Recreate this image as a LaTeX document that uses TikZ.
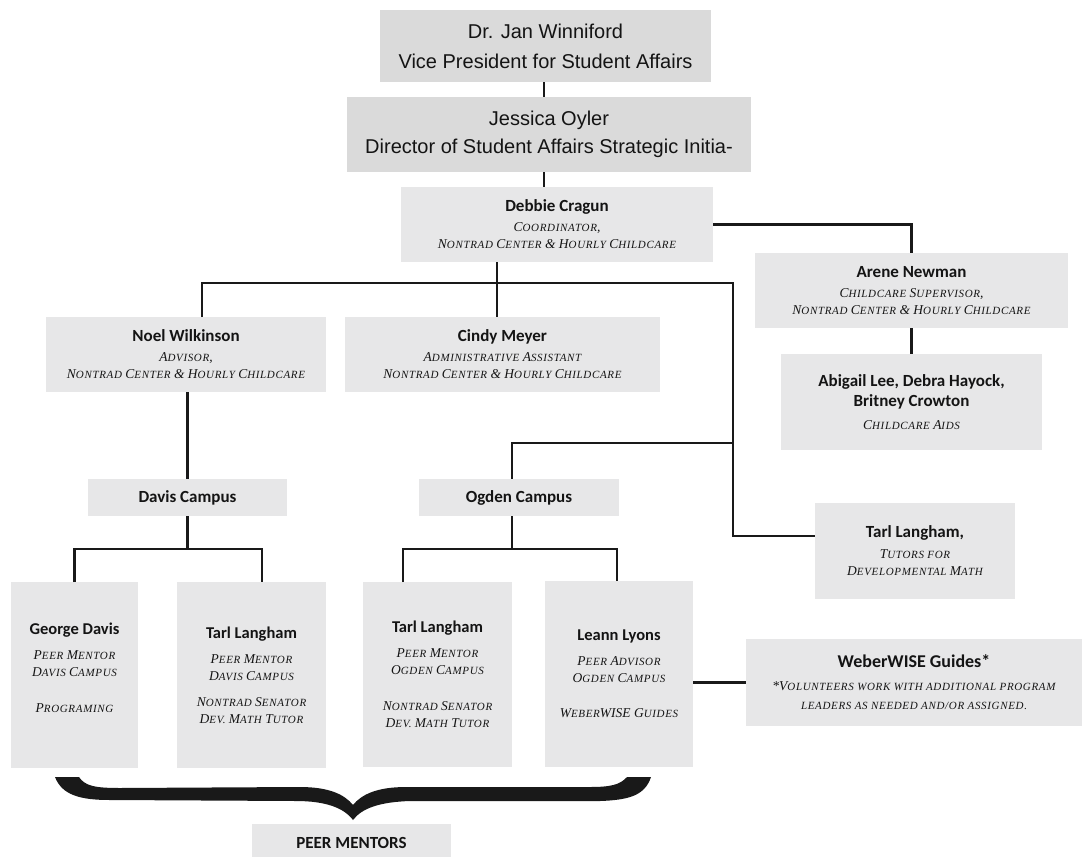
\documentclass[tikz,border=0pt]{standalone}
\usepackage{fontspec}
\setmainfont{Liberation Serif}
\newfontfamily\arialf{Liberation Sans}
\newfontfamily\namef{Carlito}
\newfontfamily\scf{Liberation Serif}[LetterSpace=6]
\definecolor{boxA}{HTML}{DADADA}
\definecolor{boxB}{HTML}{E7E7E8}
\definecolor{ink}{HTML}{141414}
\newcommand\sk[1]{{\scf\itshape\fontsize{11}{17}\selectfont\uppercase{#1}}}
\newcommand\nm{\namef\upshape\bfseries\fontsize{17}{20}\selectfont}
\newcommand\nmb{\namef\upshape\bfseries\fontsize{16.5}{20}\selectfont}
\tikzset{
  box/.style={fill=boxB, inner sep=0pt, outer sep=0pt, align=center, text=ink,
              font=\itshape\fontsize{13.5}{17}\selectfont},
  topbox/.style={box, fill=boxA, font=\arialf\fontsize{20}{30}\selectfont},
  conn/.style={line width=2.8pt, draw=black!90},
}
\begin{document}
\begin{tikzpicture}[x=1pt,y=-1pt]
\useasboundingbox (0,0) rectangle (1082,857);
\fill[white] (0,0) rectangle (1082,857);

% boxes
\node[topbox, minimum width=331pt, minimum height=72pt] (jan) at (545.5,46)
  {Dr. Jan Winniford\\Vice President for Student Affairs};
\node[topbox, minimum width=404pt, minimum height=75pt] (jess) at (549,134.5)
  {Jessica Oyler\\[-2pt]Director of Student Affairs Strategic Initia-};
\node[box, minimum width=312pt, minimum height=75pt] (debbie) at (557,224.5)
  {{\nm Debbie Cragun}\\[3pt]C\sk{oordinator},\\N\sk{ontrad} C\sk{enter} \& H\sk{ourly} C\sk{hildcare}};
\node[box, minimum width=313pt, minimum height=75pt] (arene) at (911.5,290.5)
  {{\nm Arene Newman}\\[3pt]C\sk{hildcare} S\sk{upervisor},\\N\sk{ontrad} C\sk{enter} \& H\sk{ourly} C\sk{hildcare}};
\node[box, minimum width=261pt, minimum height=96pt] (abigail) at (911.5,402)
  {{\nm Abigail Lee, Debra Hayock,}\\[3.5pt]{\nm Britney Crowton}\\[6pt]C\sk{hildcare} A\sk{ids}};
\node[box, minimum width=280pt, minimum height=75pt] (noel) at (186,354.5)
  {{\nm Noel Wilkinson}\\[3pt]A\sk{dvisor},\\N\sk{ontrad} C\sk{enter} \& H\sk{ourly} C\sk{hildcare}};
\node[box, minimum width=315pt, minimum height=75pt] (cindy) at (502.5,354.5)
  {{\nm Cindy Meyer}\\[3pt]A\sk{dministrative} A\sk{ssistant}\\N\sk{ontrad} C\sk{enter} \& H\sk{ourly} C\sk{hildcare}};
\node[box, minimum width=199pt, minimum height=37pt] (davis) at (187.5,497.5)
  {\nm Davis Campus};
\node[box, minimum width=200pt, minimum height=37pt] (ogden) at (519,497.5)
  {\nm Ogden Campus};
\node[box, minimum width=200pt, minimum height=96pt] (tarlR) at (915,551)
  {{\nm Tarl Langham,}\\[4pt]T\sk{utors for}\\D\sk{evelopmental} M\sk{ath}};
\node[box, minimum width=127pt, minimum height=186pt] (george) at (74.5,675)
  {{\nmb George Davis}\\[8pt]P\sk{eer} M\sk{entor}\\D\sk{avis} C\sk{ampus}\\[19pt]P\sk{rograming}\\[-2pt]\mbox{}};
\node[box, minimum width=149pt, minimum height=186pt] (tarl1) at (251.5,675)
  {{\nmb Tarl Langham}\\[8pt]P\sk{eer} M\sk{entor}\\D\sk{avis} C\sk{ampus}\\[9pt]N\sk{ontrad} S\sk{enator}\\D\sk{ev.} M\sk{ath} T\sk{utor}};
\node[box, minimum width=149pt, minimum height=185pt] (tarl2) at (437.5,674.5)
  {{\nmb Tarl Langham}\\[8pt]P\sk{eer} M\sk{entor}\\O\sk{gden} C\sk{ampus}\\[19pt]N\sk{ontrad} S\sk{enator}\\D\sk{ev.} M\sk{ath} T\sk{utor}};
\node[box, minimum width=148pt, minimum height=186pt] (leann) at (619,674)
  {{\nmb Leann Lyons}\\[8pt]P\sk{eer} A\sk{dvisor}\\O\sk{gden} C\sk{ampus}\\[18pt]W\sk{eber}WISE G\sk{uides}};
\node[box, minimum width=336pt, minimum height=87pt] (weber) at (914,682.5)
  {{\namef\upshape\bfseries\fontsize{18}{20}\selectfont WeberWISE Guides*}\\[6pt]*V\sk{olunteers work with additional program}\\[2pt]\sk{leaders as needed and/or assigned.}};
\node[box, minimum width=199pt, minimum height=38pt] (peer) at (351.5,843)
  {\nm PEER MENTORS};

% connectors
\coordinate (cx) at (544,0);
\draw[conn] (jan.south -| cx) -- (jess.north -| cx);
\draw[conn] (jess.south -| cx) -- (debbie.north -| cx);
\draw[conn] (debbie.east) -| (arene.north);
\draw[conn] (arene.south) -- (abigail.north);
\coordinate (bus) at (497,283);
\coordinate (busL) at (202,283);
\coordinate (busR) at (733,283);
\draw[conn] (debbie.south -| bus) -- (bus |- cindy.north);
\draw[conn] (busL |- noel.north) -- (busL) -- (busR) |- ([yshift=15pt]tarlR.west);
\coordinate (og) at (512,443);
\draw[conn] (busR |- og) -- (og) -- (og |- ogden.north);
\draw[conn] (davis.north |- noel.south) -- (davis.north);
\coordinate (dv) at (187.5,549);
\coordinate (dvR) at (262,549);
\draw[conn] (davis.south) -- (dv);
\draw[conn] (george.north) -- (george.north |- dv) -- (dvR) -- (dvR |- tarl1.north);
\coordinate (ov) at (512,549);
\coordinate (ovL) at (403,549);
\coordinate (ovR) at (617,549);
\draw[conn] (ogden.south -| ov) -- (ov);
\draw[conn] (ovL |- tarl2.north) -- (ovL) -- (ovR) -- (ovR |- leann.north);
\draw[conn] (leann.east |- weber.west) -- (weber.west);

% brace
\fill[black!90] (55,777) -- (79,777)
  .. controls (85,786) and (95,788) .. (120,788)
  -- (300,787)
  .. controls (330,787) and (345,795) .. (353,805)
  .. controls (361,795) and (376,787) .. (406,787)
  -- (590,787)
  .. controls (610,787) and (620,785) .. (627,777)
  -- (651,777)
  .. controls (645,795) and (630,800) .. (600,801)
  -- (410,801)
  .. controls (380,802) and (362,808) .. (353,820)
  .. controls (344,808) and (326,801) .. (296,801)
  -- (110,800)
  .. controls (80,800) and (62,795) .. (55,777) -- cycle;
\end{tikzpicture}
\end{document}
